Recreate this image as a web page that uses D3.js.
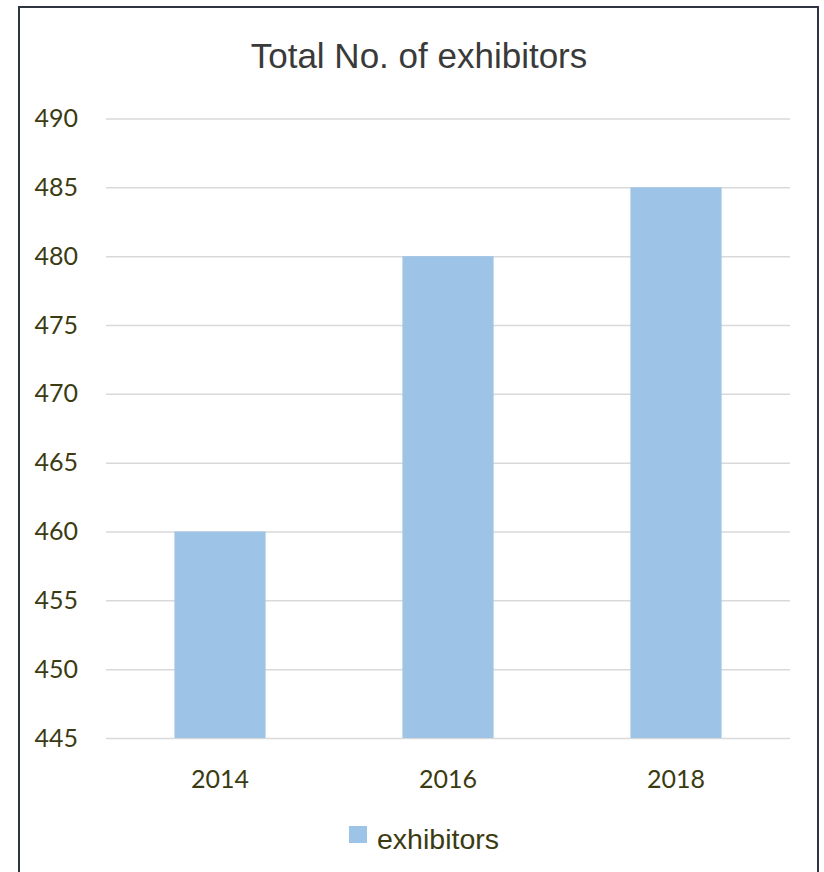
<!DOCTYPE html>
<html>
<head>
<meta charset="utf-8">
<script src="https://cdn.jsdelivr.net/npm/d3@7"></script>
<style>
  html, body { margin: 0; padding: 0; background: #fff; }
</style>
</head>
<body>
<div id="chart"></div>
<script>
// data
const years = ['2014', '2016', '2018'];
const exhibitors = [460, 480, 485];
const yTicks = [445, 450, 455, 460, 465, 470, 475, 480, 485, 490];
const seriesName = 'exhibitors';
const chartTitle = 'Total No. of exhibitors';

const WIDTH = 824, HEIGHT = 872;
const margin = { LEFT: 106, RIGHT: 34, TOP: 118.5, BOTTOM: 134 };
const plotW = WIDTH - margin.LEFT - margin.RIGHT;
const plotH = HEIGHT - margin.TOP - margin.BOTTOM;

const svg = d3.select('#chart').append('svg')
  .attr('width', WIDTH)
  .attr('height', HEIGHT);

// outer frame
svg.append('rect')
  .attr('x', 19).attr('y', 7)
  .attr('width', 799).attr('height', 900)
  .attr('fill', 'none')
  .attr('stroke', '#2e3440')
  .attr('stroke-width', 2);

svg.append('text')
  .attr('x', 419).attr('y', 67.5)
  .attr('text-anchor', 'middle')
  .attr('font-family', 'Liberation Sans, Arial, sans-serif')
  .attr('font-size', '35px')
  .attr('fill', '#3a3a3a')
  .text(chartTitle);

const g = svg.append('g')
  .attr('transform', `translate(${margin.LEFT}, ${margin.TOP})`);

const x = d3.scaleBand().domain(years).range([0, plotW])
  .paddingInner(0.6).paddingOuter(0.3);
const y = d3.scaleLinear().domain([445, 490]).range([plotH, 0]);

// gridlines
g.append('g')
  .call(d3.axisLeft(y).tickValues(yTicks).tickSize(-plotW).tickFormat(''))
  .call(s => s.select('.domain').remove())
  .selectAll('line')
  .attr('stroke', '#d9d9d9')
  .attr('stroke-width', 1.5);

// y labels
g.append('g')
  .call(d3.axisLeft(y).tickValues(yTicks).tickSize(0).tickPadding(28))
  .call(s => s.select('.domain').remove())
  .selectAll('text')
  .attr('font-family', 'Lato, sans-serif')
  .attr('font-size', '25px')
  .attr('fill', '#3b3b12');

// bars
g.selectAll('.bar')
  .data(exhibitors)
  .join('rect')
  .attr('class', 'bar')
  .attr('x', (d, i) => x(years[i]))
  .attr('y', d => y(d))
  .attr('width', x.bandwidth())
  .attr('height', d => plotH - y(d))
  .attr('fill', '#9dc3e6');

// x labels
g.append('g')
  .attr('transform', `translate(0, ${plotH})`)
  .call(d3.axisBottom(x).tickSize(0).tickPadding(32))
  .call(s => s.select('.domain').remove())
  .selectAll('text')
  .attr('font-family', 'Lato, sans-serif')
  .attr('font-size', '25px')
  .attr('fill', '#3b3b12');

// legend
const legend = svg.append('g').attr('transform', 'translate(349, 826)');
legend.append('rect')
  .attr('width', 18).attr('height', 17)
  .attr('fill', '#9dc3e6');
legend.append('text')
  .attr('x', 28).attr('y', 23)
  .attr('font-family', 'Liberation Sans, Arial, sans-serif')
  .attr('font-size', '28.5px')
  .attr('fill', '#3b3b12')
  .text(seriesName);
</script>
</body>
</html>
